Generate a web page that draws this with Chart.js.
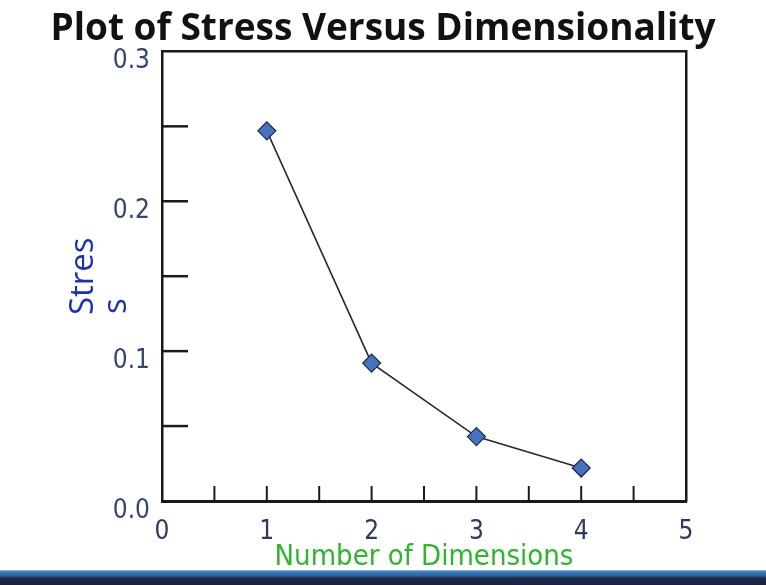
<!DOCTYPE html>
<html>
<head>
<meta charset="utf-8">
<script src="https://cdn.jsdelivr.net/npm/chart.js@4.4.1/dist/chart.umd.min.js"></script>
<style>
  html, body { margin: 0; padding: 0; background: #fff; }
  #wrap { position: relative; width: 766px; height: 585px; overflow: hidden; }
  #band {
    position: absolute; left: 0; top: 570px; width: 766px; height: 15px;
    background: linear-gradient(#8fbde0 0px, #3a78b5 2px, #2a5f9c 6px, #1c2747 8px, #1a2140 15px);
  }
</style>
</head>
<body>
<div id="wrap">
  <canvas id="stressChart" width="766" height="585"></canvas>
  <div id="band"></div>
</div>
<script>
const dimensions = [1, 2, 3, 4];
const stressValues = [0.247, 0.092, 0.043, 0.022];
const yLabels = ["0.0", "0.1", "0.2", "0.3"];
const xLabels = ["0", "1", "2", "3", "4", "5"];

const narrow = "'Liberation Sans Narrow', 'DejaVu Sans Condensed', Lato, sans-serif";
const labelFont = { family: narrow, size: 26 };

// short tick marks pointing into the plot, like the original slide
const innerTicks = {
  id: "innerTicks",
  afterDatasetsDraw(chart) {
    const { ctx, chartArea, scales } = chart;
    ctx.save();
    ctx.strokeStyle = "#1a1a1a";
    ctx.lineWidth = 2.5;
    scales.y.ticks.forEach((t) => {
      if (t.value <= 0.0001 || t.value >= 0.2999) return;
      const py = scales.y.getPixelForValue(t.value);
      ctx.beginPath();
      ctx.moveTo(chartArea.left, py);
      ctx.lineTo(chartArea.left + 26, py);
      ctx.stroke();
    });
    ctx.lineWidth = 2;
    scales.x.ticks.forEach((t) => {
      if (t.value <= 0.0001 || t.value >= 4.9999) return;
      const px = scales.x.getPixelForValue(t.value);
      ctx.beginPath();
      ctx.moveTo(px, chartArea.bottom);
      ctx.lineTo(px, chartArea.bottom - 15);
      ctx.stroke();
    });
    ctx.restore();
  },
};

const ctx = document.getElementById("stressChart").getContext("2d");

new Chart(ctx, {
  type: "line",
  data: {
    datasets: [
      {
        label: "Stress",
        data: dimensions.map((d, i) => ({ x: d, y: stressValues[i] })),
        borderColor: "#2a2a2a",
        borderWidth: 1.6,
        pointStyle: "rectRot",
        pointRadius: 9,
        pointBackgroundColor: "#4673bd",
        pointBorderColor: "#1d2a45",
        pointBorderWidth: 1.2,
        tension: 0,
        clip: false,
      },
    ],
  },
  options: {
    responsive: false,
    animation: false,
    layout: { padding: 0 },
    plugins: {
      legend: { display: false },
      tooltip: { enabled: false },
      title: {
        display: true,
        text: "Plot of Stress Versus Dimensionality",
        color: "#111",
        font: { family: "'Open Sans', Lato, sans-serif", size: 37, weight: "bold" },
        padding: { top: 7, bottom: 0 },
      },
    },
    scales: {
      x: {
        type: "linear",
        position: "bottom",
        min: 0,
        max: 5,
        afterFit: (s) => { s.height = 84; },
        grid: { drawOnChartArea: false, drawTicks: false },
        border: { color: "#1a1a1a", width: 3 },
        ticks: {
          stepSize: 0.5,
          padding: 16,
          color: "#2d3b5c",
          font: labelFont,
          callback: (v) => (Number.isInteger(v) ? xLabels[v] : ""),
        },
        title: {
          display: true,
          text: "Number of Dimensions",
          color: "#2fb52f",
          font: { family: narrow, size: 29 },
          padding: { top: 0, bottom: 10 },
        },
      },
      x2: {
        type: "linear",
        position: "top",
        min: 0,
        max: 5,
        afterFit: (s) => { s.height = 0; },
        grid: { drawOnChartArea: false, drawTicks: false },
        border: { color: "#1a1a1a", width: 2.5 },
        ticks: { display: false },
      },
      y: {
        type: "linear",
        position: "left",
        min: 0,
        max: 0.3,
        afterFit: (s) => { s.width = 162; },
        grid: { drawOnChartArea: false, drawTicks: false },
        border: { color: "#1a1a1a", width: 2.5 },
        ticks: {
          stepSize: 0.05,
          padding: 12,
          labelOffset: 10,
          color: "#33466f",
          font: labelFont,
          callback: (v) => {
            const k = Math.round(v * 10);
            return Math.abs(v * 10 - k) < 1e-6 ? yLabels[k] : "";
          },
        },
        title: {
          display: true,
          text: ["Stres", "s       "],
          color: "#1f30b0",
          font: { family: "'Open Sans', Lato, sans-serif", size: 33, lineHeight: 1.0 },
          padding: { top: 67, bottom: 0 },
        },
      },
      y2: {
        type: "linear",
        position: "right",
        min: 0,
        max: 0.3,
        afterFit: (s) => { s.width = 80; },
        grid: { drawOnChartArea: false, drawTicks: false },
        border: { color: "#1a1a1a", width: 2.5 },
        ticks: { display: false },
      },
    },
  },
  plugins: [innerTicks],
});
</script>
</body>
</html>
